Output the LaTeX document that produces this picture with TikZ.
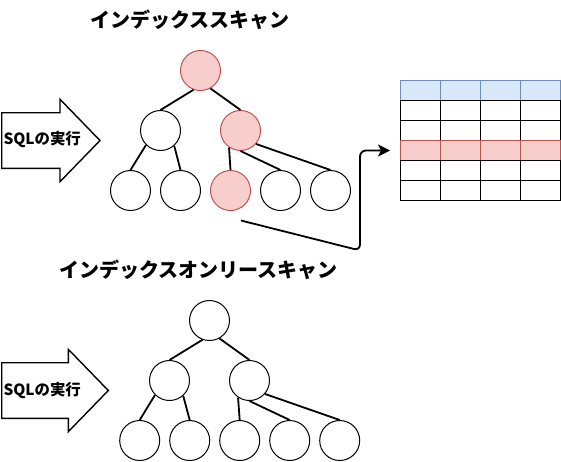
\documentclass[tikz,border=0pt]{standalone}
\usepackage{fontspec}
\newfontfamily\jp{Noto Sans CJK JP}
\usetikzlibrary{arrows.meta}
\definecolor{redfill}{HTML}{F8CECC}
\definecolor{redline}{HTML}{B85450}
\definecolor{bluefill}{HTML}{DAE8FC}
\definecolor{blueline}{HTML}{6C8EBF}
\tikzset{
  bnode/.style={circle,draw=black,fill=white,line width=1pt,minimum size=40pt,inner sep=0pt},
  hnode/.style={bnode,draw=redline,fill=redfill},
  edge/.style={line width=1.8pt,black},
  bigarrow/.style={draw=black,fill=white,line width=1.4pt,line join=miter},
  title/.style={font=\jp\bfseries\fontsize{20}{24}\selectfont,inner sep=0pt},
  arrowtext/.style={font=\jp\bfseries\fontsize{15.4}{18}\selectfont,inner sep=0pt,anchor=west},
  cell/.style={rectangle,draw=black,fill=white,line width=1pt,minimum width=40pt,minimum height=20pt,inner sep=0pt},
  hcell/.style={cell,draw=blueline,fill=bluefill},
  rcell/.style={cell,draw=redline,fill=redfill},
  conn/.style={line width=1.8pt,black,rounded corners=6pt,-{Stealth[length=12pt,width=12pt,inset=3pt]}}
}
\begin{document}
\begin{tikzpicture}[x=1pt,y=-1pt]
\useasboundingbox (0,0) rectangle (561,461);
% ---------- top: index scan ----------
\node[title] (t1) at (190,20) {インデックススキャン};
\draw[bigarrow] (1.7,112.7) -- (60,112.7) -- (60,99.3) -- (100,140.5) -- (60,181.7) -- (60,168.3) -- (1.7,168.3) -- cycle;
\node[arrowtext] (s1) at (3.3,140) {SQLの実行};
\node[hnode] (a0) at (200.5,70.5) {};
\node[bnode] (a1) at (160.5,130.5) {};
\node[hnode] (a2) at (240.5,130.5) {};
\node[bnode] (a3) at (130.5,190.5) {};
\node[bnode] (a4) at (180.5,190.5) {};
\node[hnode] (a5) at (230.5,190.5) {};
\node[bnode] (a6) at (280.5,190.5) {};
\node[bnode] (a7) at (330.5,190.5) {};
\draw[edge] (a0.250) -- (a1.north);
\draw[edge] (a0.-61) -- (a2.north);
\draw[edge] (a1.225) -- (a3.north);
\draw[edge] (a1.-48) -- (a4.north);
\draw[edge] (a2.236) -- (a5.north);
\draw[edge] (a2.south) -- (a6.north);
\draw[edge] (a2.-41) -- (a7.north);
% table
\foreach \c [count=\i] in {420.5,460.5,500.5,540.5}{
  \node[hcell] (r0c\i) at (\c,90.5) {};
}
\foreach \c [count=\i] in {420.5,460.5,500.5,540.5}{
  \node[cell] (r1c\i) at (\c,110.5) {};
}
\foreach \c [count=\i] in {420.5,460.5,500.5,540.5}{
  \node[cell] (r2c\i) at (\c,130.5) {};
}
\foreach \c [count=\i] in {420.5,460.5,500.5,540.5}{
  \node[rcell] (r3c\i) at (\c,150.5) {};
}
\foreach \c [count=\i] in {420.5,460.5,500.5,540.5}{
  \node[cell] (r4c\i) at (\c,170.5) {};
}
\foreach \c [count=\i] in {420.5,460.5,500.5,540.5}{
  \node[cell] (r5c\i) at (\c,190.5) {};
}
\coordinate (cs) at (241,220.5);
\coordinate (cb) at (360,250.5);
\draw[conn] (cs) -- (cb) -- (cb |- r3c1.west) -- ([xshift=-10pt]r3c1.west);
% ---------- bottom: index only scan ----------
\node[title] (t2) at (198.5,270) {インデックスオンリースキャン};
\draw[bigarrow] (1.7,362.7) -- (68.3,362.7) -- (68.3,349.3) -- (108.3,390.5) -- (68.3,431.7) -- (68.3,418.3) -- (1.7,418.3) -- cycle;
\node[arrowtext] (s2) at (3.3,391) {SQLの実行};
\node[bnode] (b0) at (209.5,320.5) {};
\node[bnode] (b1) at (169.5,380.5) {};
\node[bnode] (b2) at (249.5,380.5) {};
\node[bnode] (b3) at (139.7,440.5) {};
\node[bnode] (b4) at (189.7,440.5) {};
\node[bnode] (b5) at (239.7,440.5) {};
\node[bnode] (b6) at (289.7,440.5) {};
\node[bnode] (b7) at (339.7,440.5) {};
\draw[edge] (b0.250) -- (b1.north);
\draw[edge] (b0.-61) -- (b2.north);
\draw[edge] (b1.225) -- (b3.north);
\draw[edge] (b1.-48) -- (b4.north);
\draw[edge] (b2.236) -- (b5.north);
\draw[edge] (b2.south) -- (b6.north);
\draw[edge] (b2.-41) -- (b7.north);
\end{tikzpicture}
\end{document}
